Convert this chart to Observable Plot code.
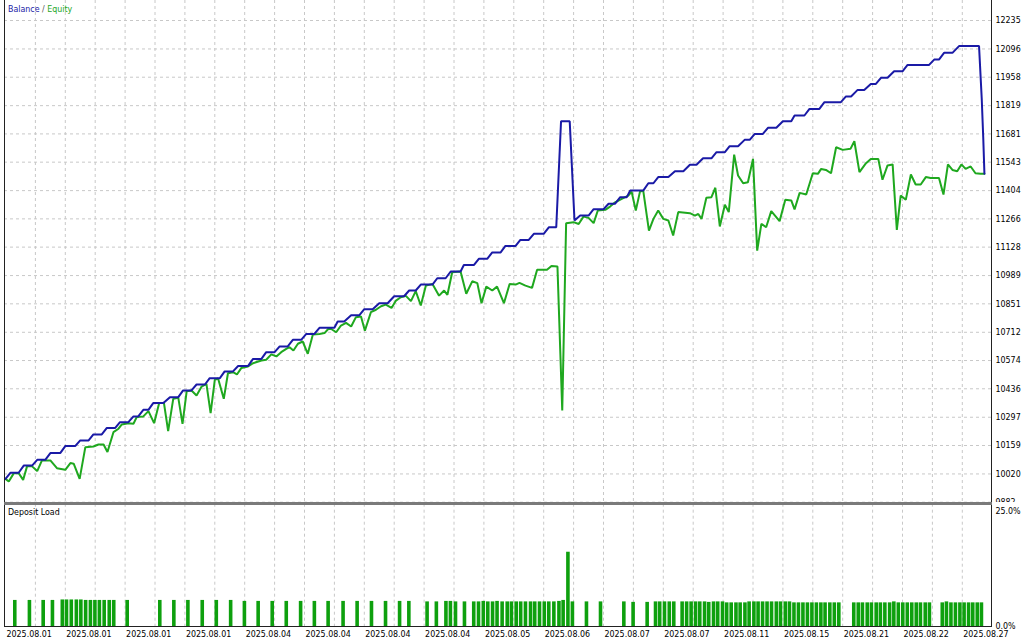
<!DOCTYPE html>
<html>
<head>
<meta charset="utf-8">
<script src="https://cdn.jsdelivr.net/npm/d3@7"></script>
<script src="https://cdn.jsdelivr.net/npm/@observablehq/plot@0.6"></script>
<style>
  html, body { margin: 0; padding: 0; background: #fff; }
  #wrap { position: relative; width: 1024px; height: 640px; overflow: hidden; background: #fff;
          font-family: "DejaVu Sans Condensed", "Liberation Sans", sans-serif; font-size: 8.8px; color: #000; }
  #top { position: absolute; left: 0; top: 0; }
  #bot { position: absolute; left: 0; top: 505px; }
  .ln { position: absolute; background: #222; }
  .lbl { position: absolute; font-size: 8.8px; white-space: nowrap; line-height: 10px; }
</style>
</head>
<body>
<div id="wrap">
  <div id="top"></div>
  <div id="bot"></div>
  <div class="ln" style="left:4px;top:0;width:1px;height:627px;"></div>
  <div class="ln" style="left:991px;top:0;width:1px;height:627px;"></div>
  <div class="ln" style="left:4px;top:502px;width:988px;height:3px;background:#7a7a7a;"></div>
  <div class="ln" style="left:4px;top:626px;width:988px;height:1px;"></div>
  <div class="lbl" style="left:8px;top:4px;"><span style="color:#1a1aa6">Balance</span> <span style="color:#555">/</span> <span style="color:#1fa81f">Equity</span></div>
  <div class="lbl" style="left:8px;top:507px;">Deposit Load</div>
</div>
<script>
// x = position along the deal axis, value = account money
const balance = [
  [0,9996],[1.7,10026],[4.4,10026],[6.1,10061],[8.9,10061],[10.6,10089],[13.3,10089],[15,10122],[18.3,10122],[20,10156],
  [23.3,10156],[25,10184],[27.8,10184],[29.4,10213],[32.2,10213],[33.9,10245],[36.7,10245],[38.3,10273],[41.1,10273],[42.8,10301],
  [44.4,10301],[46.1,10333],[47.8,10333],[49.4,10366],[52.8,10366],[55,10395],[57.8,10395],[59.4,10428],[62.2,10428],[63.9,10457],
  [66.7,10457],[68.3,10488],[71.7,10488],[73.3,10521],[76.1,10521],[77.8,10547],[81.1,10547],[82.8,10582],[85.6,10582],[87.2,10615],
  [90,10615],[91.7,10643],[94.4,10643],[96.1,10675],[98.9,10675],[100.6,10704],[103.3,10704],[105,10734],[110,10734],[111.1,10765],
  [113.3,10765],[115.6,10795],[118.3,10795],[120,10825],[122.8,10825],[125,10854],[127.8,10854],[130,10888],[133.3,10888],[135,10916],
  [137.2,10916],[138.9,10945],[142.8,10945],[144.4,10976],[147.2,10976],[148.9,11009],[152.2,11009],[153.3,11041],[156.7,11041],[158.3,11071],
  [161.1,11071],[162.8,11102],[165.6,11102],[167.2,11134],[170.6,11134],[172.2,11163],[175,11163],[176.7,11193],[180,11193],[181.7,11225],
  [184.2,11225],[185.8,11743],[188.7,11743],[190.3,11258],[192.2,11282],[195,11282],[196.7,11313],[200,11313],[201.7,11340],[203.9,11340],
  [205.6,11372],[207.8,11372],[208.9,11404],[213.3,11404],[215,11440],[216.7,11440],[218.3,11470],[221.7,11470],[223.9,11499],[226.7,11499],
  [228.9,11530],[231.1,11530],[233.3,11562],[236.1,11562],[237.8,11592],[240.6,11592],[242.2,11621],[245,11621],[247.2,11652],[248.9,11652],
  [250.6,11681],[253.3,11681],[255,11711],[257.8,11711],[260,11743],[262.8,11743],[263.9,11771],[267.2,11771],[268.9,11803],[272.2,11803],
  [273.9,11836],[279.4,11836],[281.1,11864],[282.8,11864],[285,11896],[287.2,11896],[289.4,11925],[291.1,11925],[292.8,11955],[295,11955],
  [297.2,11987],[300,11987],[301.7,12018],[308.9,12018],[310.6,12044],[312.2,12044],[313.9,12077],[316.7,12077],[318.9,12110],[325.6,12110],
  [326.5,11853],[327,11665],[327.4,11486]
];
const equity = [
  [0,9996],[1.1,9983],[2.8,10024],[4.4,10024],[5.9,9991],[7.2,10057],[8.9,10057],[10.6,10034],[12.2,10086],[15,10086],
  [17.2,10048],[20,10040],[21.7,10073],[22.8,10070],[24.8,9996],[26.7,10151],[29.4,10154],[31.1,10164],[32.8,10164],[34.1,10127],
  [36.1,10224],[37.8,10241],[38.9,10262],[41.1,10268],[42.8,10265],[43.9,10298],[46.1,10301],[47.8,10327],[49.7,10268],[51.4,10366],
  [53,10366],[54.4,10229],[56.1,10387],[57.8,10392],[59.2,10265],[60.6,10424],[62.2,10428],[63.9,10403],[65.6,10447],[67.2,10460],
  [68.6,10317],[70,10480],[71.1,10486],[73,10387],[74.4,10512],[76.1,10517],[77.4,10506],[78.9,10538],[81.1,10545],[82.8,10561],
  [85.6,10574],[87.2,10578],[88.9,10604],[90.6,10594],[92.2,10615],[93.9,10631],[95,10639],[96.3,10623],[97.8,10656],[99.4,10667],
  [101.1,10607],[102.8,10701],[105,10704],[106.7,10708],[108.3,10734],[110.6,10712],[112.2,10745],[113.9,10758],[115.6,10740],[117.2,10786],
  [118.9,10789],[120.2,10720],[122.2,10810],[123.9,10822],[125.6,10839],[127.2,10847],[129.1,10831],[130.6,10867],[132.2,10883],[133.9,10890],
  [135.6,10864],[137.2,10913],[138.9,10843],[140.6,10940],[142.8,10948],[145,10891],[146.7,10916],[147.8,10895],[149.4,11005],[152.2,11009],
  [154.1,10900],[156.1,10961],[157.8,10952],[159.2,10854],[160.8,10935],[162.8,10916],[164.4,10935],[166.7,10854],[168.6,10948],[170.6,10945],
  [171.9,10953],[173.9,10940],[176.1,10929],[177.8,11017],[181.1,11017],[182.6,11036],[184.6,11033],[186.2,10330],[187.5,11245],[190,11250],
  [191.7,11241],[193.3,11277],[195,11271],[196.7,11245],[198.1,11307],[200.6,11310],[202.2,11326],[203.9,11347],[206.1,11364],[208.3,11380],
  [209.4,11399],[210.8,11307],[212.2,11399],[213.3,11403],[215.2,11209],[216.7,11266],[218.3,11307],[220,11266],[221.7,11258],[223.3,11185],
  [225,11299],[228.9,11294],[230.6,11282],[231.7,11290],[232.8,11266],[234.4,11369],[236.1,11372],[237.4,11418],[238.9,11229],[240.6,11335],
  [241.9,11299],[243.7,11580],[245,11478],[246.7,11440],[248.3,11445],[250,11559],[251.4,11111],[252.8,11242],[254.4,11225],[256.1,11304],
  [258.9,11255],[260.8,11359],[262.8,11356],[263.9,11312],[265.6,11393],[267.8,11385],[270,11489],[271.7,11486],[272.8,11510],[274.4,11505],
  [276.1,11489],[277.8,11616],[280,11603],[282.6,11608],[283.9,11645],[285.6,11494],[287.8,11538],[289.4,11559],[291.9,11559],[293.3,11457],
  [295,11527],[296.7,11532],[298.1,11212],[299.4,11380],[301.1,11359],[302.8,11483],[304.4,11434],[306.1,11434],[307.8,11470],[309.4,11466],
  [312.2,11466],[313.7,11385],[315.2,11532],[316.7,11505],[318.3,11499],[319.7,11532],[321.1,11510],[322.8,11522],[324.4,11489],[326.1,11486],
  [327.4,11486]
];
// deposit load bars: position and percent
const loadX = [
  3.1,8.0,12.6,15.7,19.0,20.4,22.0,23.7,25.2,26.8,28.4,29.9,31.4,33.0,34.7,36.2,40.7,51.6,56.3,61.0,
  65.8,70.5,75.3,79.9,84.5,89.2,93.9,98.7,103.3,107.9,112.9,117.6,122.4,127.1,131.8,134.9,141.0,144.1,147.3,148.8,
  150.5,153.5,156.6,158.2,159.8,161.3,162.9,164.4,166.1,167.8,169.2,170.8,172.3,173.9,175.6,177.0,178.6,180.2,181.7,183.4,
  185.1,186.5,188.1,189.6,194.3,199.0,206.8,209.9,214.6,217.4,218.8,220.4,222.0,223.5,226.3,227.8,229.3,230.8,232.2,233.8,
  235.2,236.8,238.2,239.8,241.2,242.7,244.3,245.7,247.3,248.7,250.3,251.7,253.2,254.7,256.2,257.8,259.2,260.8,262.2,263.7,
  265.2,266.7,268.2,269.7,271.2,272.7,274.1,275.7,277.2,278.7,283.7,285.2,286.6,288.2,289.6,291.2,292.6,294.1,295.7,297.1,
  298.6,300.1,301.6,303.1,304.6,306.0,307.6,309.0,313.3,314.7,316.2,317.7,319.2,320.6,322.1,323.5,325.0,326.4
];
const loadV = [
  5.5,5.5,5.5,5.5,5.6,5.6,5.6,5.6,5.6,5.5,5.5,5.5,5.5,5.5,5.5,5.5,5.5,5.5,5.5,5.5,
  5.5,5.5,5.5,5.3,5.3,5.3,5.3,5.3,5.3,5.3,5.3,5.3,5.3,5.3,5.3,5.3,5.2,5.2,5.3,5.3,
  5.2,5.2,5.2,5.2,5.3,5.2,5.2,5.3,5.2,5.2,5.2,5.2,5.2,5.2,5.2,5.2,5.2,5.2,5.2,5.2,
  5.3,5.5,15.4,5.2,5.2,5.2,5.2,5.1,5.1,5.2,5.2,5.2,5.2,5.2,5.2,5.2,5.2,5.2,5.2,5.2,
  5.1,5.2,5.2,5.2,5.0,5.0,5.0,5.0,5.0,5.2,5.2,5.2,5.2,5.2,5.2,5.2,5.2,5.2,5.2,5.0,
  5.0,5.0,5.0,5.0,5.0,5.0,5.0,5.0,5.0,5.0,5.0,5.0,5.0,5.0,5.0,5.0,5.0,5.0,5.0,5.2,
  5.0,5.0,5.0,5.0,5.0,5.0,5.0,5.0,5.0,5.2,5.0,5.0,5.0,5.0,5.0,5.0,5.0,5.0
];
const yTicks = [9882,10020,10159,10297,10436,10574,10712,10851,10989,11128,11266,11404,11543,11681,11819,11958,12096,12235];
const xGrid = [10,20,30,40,50,60,70,80,90,100,110,120,130,140,150,160,170,180,190,200,210,220,230,240,250,260,270,280,290,300,310,320];
const xTicks = [0,20,40,60,80,100,120,140,160,180,200,220,240,260,280,300,320];
const xLabels = ["2025.08.01","2025.08.01","2025.08.01","2025.08.01","2025.08.04","2025.08.04","2025.08.04","2025.08.04",
  "2025.08.05","2025.08.06","2025.08.07","2025.08.07","2025.08.11","2025.08.15","2025.08.21","2025.08.22","2025.08.27"];
const loadPctTicks = [0, 25];

const FONT = "'DejaVu Sans Condensed', 'Liberation Sans', sans-serif";
const FS = 8.8;
const GRID = {stroke: "#c8c8c8", strokeDasharray: "3,3", strokeWidth: 1};
const BLUE = "#1a1aa6", GREEN = "#1fa81f", BAR = "#0ea00e";

const topPlot = Plot.plot({
  width: 1024, height: 502,
  marginLeft: 4, marginRight: 33, marginTop: 0, marginBottom: 0,
  x: {domain: [0, 330], range: [5, 991.7], axis: null},
  y: {domain: [9882, 12235], range: [501.7, 20]},
  style: {fontFamily: FONT, fontSize: FS + "px", color: "#000", background: "#fff"},
  marks: [
    Plot.ruleY(yTicks, GRID),
    Plot.ruleX(xGrid, GRID),
    Plot.line(equity, {x: d => d[0], y: d => d[1], stroke: GREEN, strokeWidth: 2, strokeLinejoin: "miter"}),
    Plot.line(balance, {x: d => d[0], y: d => d[1], stroke: BLUE, strokeWidth: 2, strokeLinejoin: "miter"}),
    Plot.axisY({anchor: "right", label: null, ticks: yTicks, tickSize: 0, tickPadding: 4, tickFormat: d => String(d), fill: "#000", fontSize: FS})
  ]
});
document.getElementById("top").appendChild(topPlot);

const loads = loadX.map((x, i) => ({x, v: loadV[i]}));
const botPlot = Plot.plot({
  width: 1024, height: 135,
  marginLeft: 4, marginRight: 33, marginTop: 0, marginBottom: 13,
  x: {domain: [0, 330], range: [5, 991.7]},
  y: {domain: [0, 25], range: [121.7, 0]},
  style: {fontFamily: FONT, fontSize: FS + "px", color: "#000", background: "#fff"},
  marks: [
    Plot.ruleX(xGrid, {...GRID, y1: 0, y2: 25}),
    Plot.ruleX(loads, {x: "x", y1: 0, y2: "v", stroke: BAR, strokeWidth: 3.6}),
    Plot.axisX({ticks: xTicks, label: null, tickSize: 0, tickPadding: 3.5, textAnchor: "start", dx: 1,
      tickFormat: d => xLabels[xTicks.indexOf(d)], fill: "#000", fontSize: FS}),
    Plot.axisY({anchor: "right", label: null, ticks: [loadPctTicks[0]], tickSize: 0, tickPadding: 4, dy: -1,
      tickFormat: d => d.toFixed(1) + "%", fill: "#000", fontSize: FS}),
    Plot.axisY({anchor: "right", label: null, ticks: [loadPctTicks[1]], tickSize: 0, tickPadding: 4, dy: 6,
      tickFormat: d => d.toFixed(1) + "%", fill: "#000", fontSize: FS})
  ]
});
document.getElementById("bot").appendChild(botPlot);
</script>
</body>
</html>
